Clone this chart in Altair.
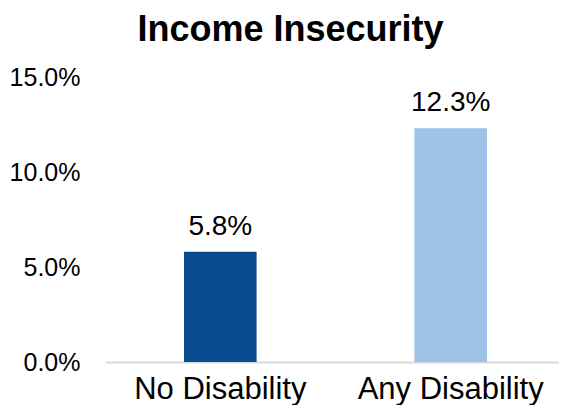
import altair as alt
import pandas as pd

categories = ["No Disability", "Any Disability"]
values = [0.058, 0.123]
colors = ["#074A8E", "#9DC3E6"]
y_ticks = [0.0, 0.05, 0.10, 0.15]

df = pd.DataFrame({"group": categories, "rate": values, "color": colors})

FONT = "Liberation Sans"

base = alt.Chart(df).encode(
    x=alt.X(
        "group:N", sort=categories, title=None,
        scale=alt.Scale(paddingInner=0.685, paddingOuter=0.343, range=[0, 461]),
        axis=alt.Axis(labelAngle=0, ticks=False, domainColor="#d9d9d9", domainWidth=2,
                      labelFontSize=31, labelPadding=12, labelColor="#000000", labelFont=FONT,
                      labelLimit=0),
    ),
    y=alt.Y(
        "rate:Q", title=None,
        scale=alt.Scale(domain=[0, 0.15], nice=False),
        axis=alt.Axis(values=y_ticks, format=".1%", grid=False, domain=False, ticks=False,
                      labelFontSize=25, labelPadding=25, labelColor="#000000", labelFont=FONT),
    ),
)

bars = base.mark_bar().encode(color=alt.Color("color:N", scale=None))
labels = base.mark_text(baseline="alphabetic", dy=-17, fontSize=28, font=FONT, color="#000000").encode(
    text=alt.Text("rate:Q", format=".1%")
)

chart = (bars + labels).properties(
    width=454,
    height=285,
    title=alt.TitleParams("Income Insecurity", fontSize=36, font=FONT, fontWeight="bold",
                          color="#000000", anchor="middle", frame="bounds", offset=16, dx=3),
    padding={"left": 97, "top": 69, "right": 0, "bottom": 43},
    autosize="none",
).configure_view(stroke=None)

chart.save("out.html", embed_options={"renderer": "svg", "actions": False})
